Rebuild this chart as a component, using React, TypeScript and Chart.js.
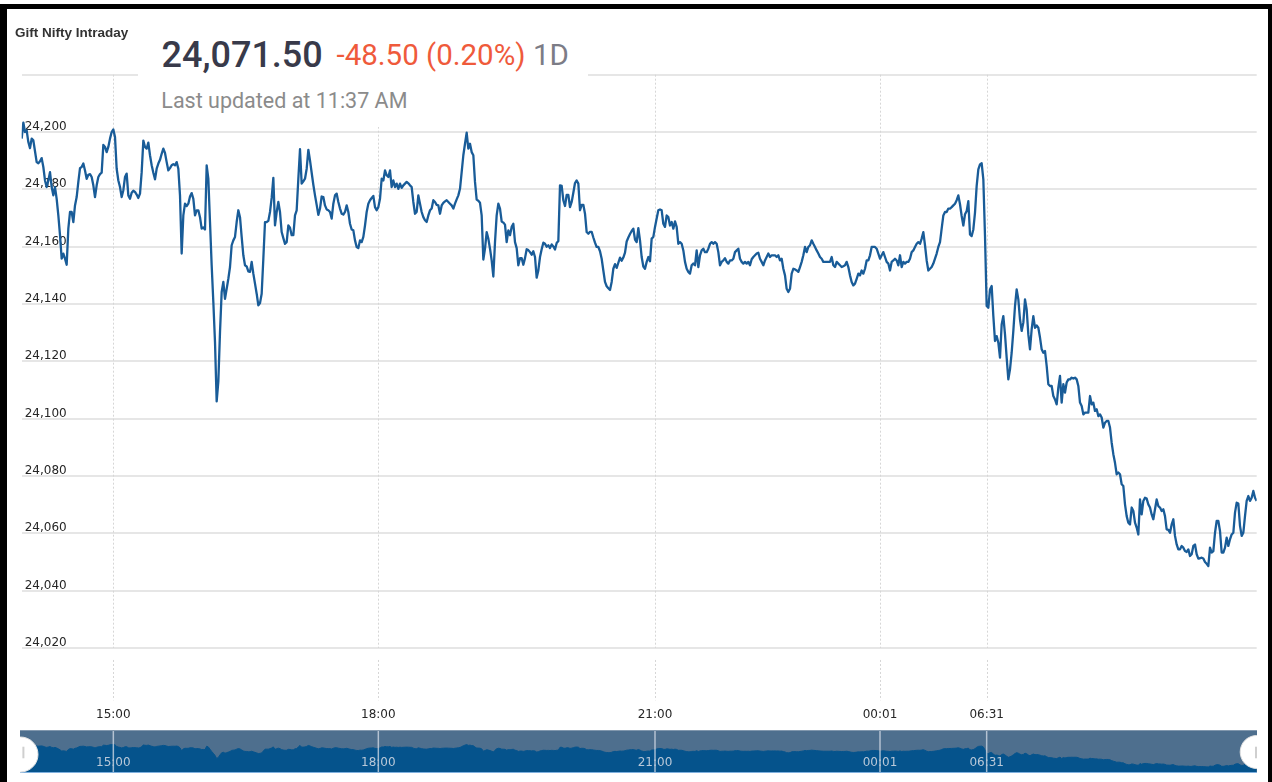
import React, { useEffect, useRef } from "react";
import { Chart, registerables } from "chart.js";

Chart.register(...registerables);

// ---- data ----
const afternoon: number[] = [
  24197.7, 24203.3, 24200.0, 24200.6, 24196.5, 24194.4, 24197.7, 24197.1, 24193.3, 24189.5,
  24189.1, 24189.8, 24190.9, 24187.8, 24183.1, 24180.8, 24183.1, 24186.0, 24180.8, 24177.9,
  24180.8, 24176.7, 24170.9, 24164.0, 24155.8, 24157.6, 24155.8, 24153.7, 24166.3, 24172.1,
  24172.1, 24168.6, 24174.4, 24177.3, 24182.6, 24187.4, 24187.8, 24189.0, 24186.6, 24183.7,
  24185.1, 24185.3, 24184.3, 24181.4, 24177.3, 24181.4, 24184.3, 24185.3, 24185.8, 24195.5,
  24194.8, 24193.0, 24194.8, 24197.7, 24200.0, 24200.9, 24198.3, 24187.2, 24183.1, 24180.8,
  24177.3, 24179.7, 24184.3, 24185.5, 24177.9, 24176.7, 24178.8, 24179.5, 24179.1, 24178.2,
  24177.0, 24178.5, 24186.0, 24197.0, 24194.8, 24194.2, 24196.3, 24191.9, 24188.4, 24185.8,
  24183.5, 24187.2, 24189.0, 24190.3, 24192.4, 24194.2, 24192.7, 24189.5, 24186.6, 24187.4,
  24188.4, 24188.8, 24188.4, 24189.5, 24187.2, 24177.9, 24157.6, 24170.9, 24175.0, 24174.2,
  24175.0, 24177.5, 24178.7, 24176.7, 24170.9, 24172.7, 24172.7, 24170.3, 24166.3, 24166.7,
  24166.0, 24188.4, 24183.7, 24168.6, 24153.5, 24140.7, 24126.7, 24106.0, 24113.0, 24130.2,
  24144.2, 24147.7, 24141.8, 24145.3, 24148.8, 24152.9, 24160.5, 24162.2, 24163.4, 24168.6,
  24172.7, 24170.3, 24163.4, 24157.0, 24153.5, 24153.1, 24151.4, 24151.2, 24154.7, 24150.6,
  24147.1, 24143.6, 24139.5, 24140.3, 24143.6, 24155.8, 24168.6, 24168.6, 24169.0, 24172.1,
  24177.0, 24184.0, 24167.4, 24172.1, 24175.6, 24172.1, 24165.1, 24163.0, 24161.0, 24161.6,
  24167.4, 24166.6, 24164.0, 24164.0, 24170.9, 24172.7, 24183.7, 24194.0, 24182.0, 24182.8,
  24183.7, 24187.2, 24193.8, 24190.1, 24185.8, 24181.6, 24177.9, 24174.6, 24171.1, 24173.3,
  24177.5, 24177.3, 24174.4, 24173.0, 24172.7,
];

const evening: number[] = [
  24172.1, 24169.8, 24175.0, 24177.9, 24178.5, 24175.6, 24173.3, 24171.5, 24171.2, 24172.1,
  24174.4, 24172.1, 24168.0, 24166.0, 24165.7, 24162.2, 24159.9, 24159.5, 24162.2, 24161.6,
  24163.4, 24167.4, 24172.1, 24175.0, 24176.2, 24177.0, 24177.7, 24173.8, 24172.7, 24173.8,
  24176.7, 24183.7, 24183.1, 24186.6, 24184.9, 24184.3, 24186.6, 24180.8, 24183.1, 24180.8,
  24182.0, 24180.2, 24182.0, 24180.5, 24181.4, 24182.0, 24182.6, 24182.1, 24181.4, 24180.8,
  24175.6, 24171.5, 24172.1, 24177.9, 24175.0, 24172.1, 24170.3, 24169.2, 24168.6, 24170.9,
  24172.7, 24173.3, 24176.2, 24175.6, 24174.6, 24174.4, 24171.5, 24174.4, 24175.3, 24175.8,
  24176.2, 24175.6, 24175.0, 24174.4, 24173.3, 24175.0, 24176.5, 24177.9, 24180.2, 24186.0,
  24191.9, 24195.9, 24199.8, 24194.2, 24195.9, 24193.0, 24191.9, 24182.6, 24176.4, 24176.0,
  24175.3, 24170.9, 24155.5, 24159.3, 24165.1, 24162.8, 24159.3, 24155.2, 24149.6, 24161.6,
  24170.9, 24175.0, 24173.3, 24168.8, 24168.4, 24167.7, 24161.6, 24165.7, 24164.0, 24166.9,
  24168.0, 24161.6, 24159.5, 24153.5, 24156.0, 24156.0, 24153.7, 24156.0, 24159.1, 24158.8,
  24158.1, 24157.2, 24158.4, 24156.4, 24149.2, 24151.7, 24156.4, 24159.1, 24161.4, 24161.0,
  24160.0, 24160.5, 24159.5, 24160.8, 24160.1, 24159.0, 24161.3, 24162.0, 24181.4, 24181.2,
  24176.2, 24174.2, 24178.1, 24178.1, 24173.8, 24175.6, 24178.8, 24182.2, 24183.1, 24182.0,
  24172.7, 24174.6, 24174.6, 24171.5, 24165.1, 24164.5, 24165.2, 24165.2, 24163.2, 24161.4,
  24159.9, 24159.9, 24158.4, 24155.8, 24151.7, 24147.7, 24146.2, 24145.5, 24144.9, 24147.7,
  24152.3, 24153.9, 24152.6, 24154.4, 24156.2, 24155.1, 24156.2, 24157.9, 24161.8, 24163.2,
  24164.4, 24165.5, 24166.3, 24162.5, 24161.6, 24166.5, 24162.2, 24156.4, 24153.1,
];

const night: number[] = [
  24152.3, 24154.7, 24156.4, 24154.9, 24162.8, 24163.4, 24166.9, 24169.8, 24172.7, 24173.0,
  24172.7, 24168.0, 24166.9, 24170.9, 24170.3, 24167.4, 24168.6, 24166.3, 24168.8, 24166.9,
  24161.0, 24161.6, 24161.0, 24158.7, 24154.7, 24152.3, 24151.2, 24150.6, 24153.5, 24154.1,
  24153.5, 24158.7, 24152.9, 24157.0, 24158.7, 24159.3, 24158.1, 24158.1, 24159.3, 24161.0,
  24161.6, 24161.0, 24161.6, 24161.0, 24158.1, 24153.5, 24154.7, 24155.2, 24156.0, 24154.7,
  24154.1, 24155.2, 24155.2, 24155.8, 24158.1, 24158.7, 24159.3, 24155.8, 24154.7, 24154.1,
  24154.7, 24154.1, 24154.7, 24153.5, 24155.6, 24156.4, 24157.0, 24157.6, 24157.9, 24155.8,
  24154.7, 24153.5, 24155.2, 24156.4, 24157.6, 24156.4, 24157.0, 24157.0, 24157.0, 24156.4,
  24157.0, 24155.2, 24155.8, 24152.3, 24150.0, 24145.3, 24144.2, 24145.3, 24150.6, 24152.3,
  24152.1, 24151.7, 24151.2, 24152.9, 24154.7, 24157.0, 24159.9, 24158.1, 24159.9, 24160.5,
  24162.2, 24161.0, 24159.9, 24158.7, 24157.6, 24156.4, 24155.8, 24154.7, 24154.7, 24154.7,
  24154.7, 24154.7, 24156.4, 24153.5, 24152.9, 24154.7, 24154.1, 24153.5, 24152.9, 24153.2,
  24153.5, 24154.7, 24152.9, 24150.0, 24147.7, 24146.5, 24147.1, 24148.8, 24150.6, 24150.0,
  24151.7, 24150.6, 24152.3, 24155.2, 24155.2, 24157.0, 24159.9, 24159.9, 24159.9, 24159.3,
  24157.6, 24155.8, 24157.0, 24158.1, 24156.4, 24154.7, 24154.1, 24151.7, 24154.7, 24155.2,
  24155.8, 24155.2, 24153.5, 24157.0, 24152.9, 24154.7, 24154.1, 24154.7, 24154.7, 24155.8,
  24158.1, 24158.7, 24159.9, 24161.0, 24161.6, 24161.0, 24162.8, 24165.1, 24160.5, 24155.2,
  24151.7, 24152.3, 24152.9, 24154.1, 24155.8, 24157.6, 24159.9, 24161.6, 24166.3, 24170.9,
  24172.1, 24172.1, 24173.3, 24173.3, 24173.8, 24174.4, 24175.0, 24176.2, 24177.9,
];

const morning: number[] = [
  24174.8, 24170.7, 24167.4, 24171.3, 24172.4, 24175.9, 24164.3, 24163.7, 24166.0, 24171.9,
  24181.2, 24187.0, 24188.7, 24189.1, 24183.5, 24163.7, 24139.3, 24138.7, 24145.1, 24146.3,
  24135.8, 24127.1, 24128.8, 24126.5, 24121.3, 24132.9, 24135.8, 24129.4, 24121.3, 24113.7,
  24117.2, 24123.0, 24130.6, 24139.3, 24145.1, 24141.6, 24134.6, 24130.6, 24133.5, 24141.6,
  24138.1, 24129.4, 24124.2, 24131.2, 24135.8, 24131.7, 24132.5, 24131.7, 24128.3, 24124.2,
  24123.0, 24123.6, 24118.4, 24112.0, 24111.4, 24111.4, 24107.9, 24106.7, 24105.0, 24110.8,
  24114.9, 24105.6, 24112.0, 24109.1, 24112.6, 24113.7, 24113.7, 24114.3, 24114.0, 24114.3,
  24113.7, 24111.4, 24105.6, 24104.4, 24101.5, 24102.1, 24102.1, 24102.1, 24107.9, 24105.0,
  24105.6, 24102.7, 24103.3, 24100.9, 24101.5, 24100.4, 24096.9, 24098.6, 24099.2, 24099.2,
  24096.9, 24091.6, 24087.6, 24084.6, 24080.6, 24081.2, 24080.6, 24077.1, 24076.5, 24070.1,
  24066.0, 24063.7, 24063.1, 24069.0, 24067.8, 24063.7, 24062.0, 24059.6, 24071.8, 24066.6,
  24071.3, 24072.4, 24072.1, 24070.1, 24069.0, 24066.6, 24064.9, 24068.4, 24071.8, 24069.5,
  24069.0, 24067.8, 24068.4, 24066.0, 24061.4, 24061.2, 24060.2, 24063.1, 24064.9, 24059.1,
  24056.1, 24054.4, 24054.4, 24055.6, 24055.0, 24053.8, 24053.5, 24054.4, 24052.1, 24052.7,
  24055.6, 24056.1, 24052.7, 24051.2, 24051.3, 24051.5, 24051.2, 24050.0, 24049.4, 24048.6,
  24055.0, 24053.3, 24053.8, 24060.2, 24064.3, 24064.3, 24060.8, 24053.3, 24053.3, 24055.0,
  24058.5, 24055.6, 24057.9, 24059.6, 24060.2, 24067.2, 24070.7, 24070.4, 24062.6, 24059.1,
  24060.2, 24066.0, 24071.3, 24073.0, 24071.3, 24072.4, 24074.8, 24072.4, 24071.3,
];

const prices: number[] = [...afternoon, ...evening, ...night, ...morning];

const timeTickIndex: number[] = [55, 214, 380, 515, 579];
const timeTickLabels: string[] = ["15:00", "18:00", "21:00", "00:01", "06:31"];
const priceTicks: number[] = [24000, 24020, 24040, 24060, 24080, 24100, 24120, 24140, 24160, 24180, 24200, 24220];
const priceMin = 24000;
const priceMax = 24220;

const titleText = "Gift Nifty Intraday";
const lastPrice = "24,071.50";
const changeText = "-48.50 (0.20%)";
const periodText = "1D";
const updatedText = "Last updated at 11:37 AM";

const fmt = new Intl.NumberFormat("en-US");
const tickFont = { family: "'DejaVu Sans', Verdana, sans-serif", size: 12 };

const timeGridPlugin = {
  id: "timeGrid",
  beforeDatasetsDraw(chart: any) {
    const { ctx, chartArea, scales } = chart;
    const yLow = scales.y.getPixelForValue(24020);
    ctx.save();
    ctx.strokeStyle = "#d6d6d6";
    ctx.lineWidth = 1;
    ctx.setLineDash([2, 2]);
    timeTickIndex.forEach((i) => {
      const px = Math.round(scales.x.getPixelForValue(i)) + 0.5;
      ctx.beginPath();
      ctx.moveTo(px, chartArea.top);
      ctx.lineTo(px, yLow);
      ctx.moveTo(px, yLow + 12);
      ctx.lineTo(px, chartArea.bottom - 5);
      ctx.stroke();
    });
    ctx.restore();
  },
};

const navigatorPlugin = {
  id: "navDecor",
  beforeDraw(chart: any) {
    const { ctx, width, height } = chart;
    ctx.save();
    ctx.fillStyle = "#4e6f8e";
    ctx.fillRect(0, 0, width, height);
    ctx.restore();
  },
  afterDatasetsDraw(chart: any) {
    const { ctx, width, height, scales } = chart;
    ctx.save();
    ctx.strokeStyle = "rgba(215,222,232,0.75)";
    ctx.lineWidth = 1.5;
    timeTickIndex.forEach((i) => {
      const px = scales.x.getPixelForValue(i);
      ctx.beginPath();
      ctx.moveTo(px, 0);
      ctx.lineTo(px, height);
      ctx.stroke();
    });
    ctx.fillStyle = "#b9c8d8";
    ctx.font = "12px 'DejaVu Sans', Verdana, sans-serif";
    ctx.textAlign = "center";
    ctx.textBaseline = "middle";
    timeTickIndex.forEach((i, k) => {
      ctx.fillText(timeTickLabels[k], scales.x.getPixelForValue(i), 33);
    });
    // edges
    ctx.fillStyle = "#8197ad";
    ctx.fillRect(0, 0, width, 1);
    ctx.fillStyle = "#7fb0de";
    ctx.fillRect(0, height - 1, width, 1);
    // handles
    const handles = [
      { cx: 0.5, cy: 24.5, r: 17.5, bx: 2.4 },
      { cx: width - 0.3, cy: 22, r: 16.5, bx: width - 2 },
    ];
    handles.forEach((h) => {
      ctx.beginPath();
      ctx.arc(h.cx, h.cy, h.r, 0, Math.PI * 2);
      ctx.fillStyle = "#ffffff";
      ctx.fill();
      ctx.strokeStyle = "#e2e2e2";
      ctx.lineWidth = 1;
      ctx.stroke();
      ctx.fillStyle = "#cfcfcf";
      ctx.fillRect(h.bx, 16.7, 2, 11.6);
    });
    ctx.restore();
  },
};

export default function App() {
  const mainRef = useRef<HTMLCanvasElement | null>(null);
  const navRef = useRef<HTMLCanvasElement | null>(null);

  useEffect(() => {
    if (!mainRef.current || !navRef.current) return;
    const points = prices.map((v, i) => ({ x: i, y: v }));

    const main = new Chart(mainRef.current, {
      type: "line",
      data: {
        datasets: [
          {
            data: points,
            borderColor: "#195c98",
            borderWidth: 2.3,
            pointRadius: 0,
            fill: false,
            tension: 0,
            borderJoinStyle: "round",
          } as any,
        ],
      },
      options: {
        animation: false,
        responsive: false,
        maintainAspectRatio: false,
        events: [],
        layout: { padding: { left: 18.67, right: 15.33, top: 74.7, bottom: 56.7 } },
        plugins: { legend: { display: false }, tooltip: { enabled: false } },
        scales: {
          x: {
            type: "linear",
            min: 0,
            max: prices.length - 1,
            afterBuildTicks: (s: any) => {
              s.ticks = timeTickIndex.map((v) => ({ value: v }));
            },
            afterFit: (s: any) => {
              s.height = 20;
            },
            ticks: {
              autoSkip: false,
              maxRotation: 0,
              padding: 2,
              font: tickFont,
              color: "#262626",
              callback: (v: any) => {
                const k = timeTickIndex.indexOf(Number(v));
                return k >= 0 ? timeTickLabels[k] : "";
              },
            },
            grid: { display: false, drawTicks: false },
            border: { display: false },
          },
          y: {
            type: "linear",
            min: priceMin,
            max: priceMax,
            afterBuildTicks: (s: any) => {
              s.ticks = priceTicks.map((v) => ({ value: v }));
            },
            afterFit: (s: any) => {
              s.width = 3;
            },
            ticks: {
              mirror: true,
              padding: 3,
              labelOffset: -5,
              font: tickFont,
              color: "#262626",
              callback: (v: any) =>
                Number(v) === priceMin || Number(v) === priceMax ? "" : fmt.format(Number(v)),
            },
            grid: {
              drawTicks: false,
              lineWidth: 2,
              color: (c: any) => (c.tick && c.tick.value === priceMin ? "rgba(0,0,0,0)" : "#e6e6e6"),
            },
            border: { display: false },
          },
        },
      } as any,
      plugins: [timeGridPlugin],
    });

    const nav = new Chart(navRef.current, {
      type: "line",
      data: {
        datasets: [
          {
            data: points,
            borderColor: "#05538c",
            borderWidth: 1,
            pointRadius: 0,
            fill: "start",
            backgroundColor: "#05538c",
            tension: 0,
          } as any,
        ],
      },
      options: {
        animation: false,
        responsive: false,
        maintainAspectRatio: false,
        events: [],
        layout: { padding: 0 },
        plugins: { legend: { display: false }, tooltip: { enabled: false } },
        scales: {
          x: { type: "linear", display: false, min: -1, max: 741.2 },
          y: { type: "linear", display: false, min: 24008, max: 24298 },
        },
      } as any,
      plugins: [navigatorPlugin],
    });

    return () => {
      main.destroy();
      nav.destroy();
    };
  }, []);

  const abs: React.CSSProperties = { position: "absolute", whiteSpace: "nowrap", lineHeight: 1, margin: 0 };

  return (
    <div style={{ position: "fixed", left: 0, top: 0, width: 1272, height: 782, background: "#ffffff", overflow: "hidden" }}>
      <canvas ref={mainRef} width={1272} height={782} style={{ position: "absolute", left: 0, top: 0, width: 1272, height: 782 }} />
      <canvas ref={navRef} width={1237} height={43} style={{ position: "absolute", left: 20, top: 730, width: 1237, height: 43 }} />

      {/* header box */}
      <div style={{ position: "absolute", left: 138, top: 9, width: 450, height: 118, background: "#ffffff" }} />
      <div style={{ ...abs, left: 15, top: 25.6, fontFamily: "'Liberation Sans', Arial, sans-serif", fontWeight: 700, fontSize: 13.5, color: "#333333" }}>
        {titleText}
      </div>
      <div style={{ ...abs, left: 161.5, top: 36.7, fontFamily: "Roboto, sans-serif", fontWeight: 500, fontSize: 36, color: "#383a4a" }}>
        {lastPrice}
      </div>
      <div style={{ ...abs, left: 336.5, top: 41.3, fontFamily: "Roboto, sans-serif", fontSize: 29.5 }}>
        <span style={{ color: "#ef5a3b" }}>{changeText}</span>
        {" "}
        <span style={{ color: "#7c7c86" }}>{periodText}</span>
      </div>
      <div style={{ ...abs, left: 161.3, top: 90, fontFamily: "Roboto, sans-serif", fontSize: 21.5, color: "#8b8b8b" }}>
        {updatedText}
      </div>

      {/* black frame */}
      <div style={{ position: "absolute", left: 0, top: 4, width: 1272, height: 5, background: "#000" }} />
      <div style={{ position: "absolute", left: 0, top: 4, width: 7, height: 778, background: "#000" }} />
      <div style={{ position: "absolute", left: 1268, top: 4, width: 4, height: 778, background: "#000" }} />
    </div>
  );
}
